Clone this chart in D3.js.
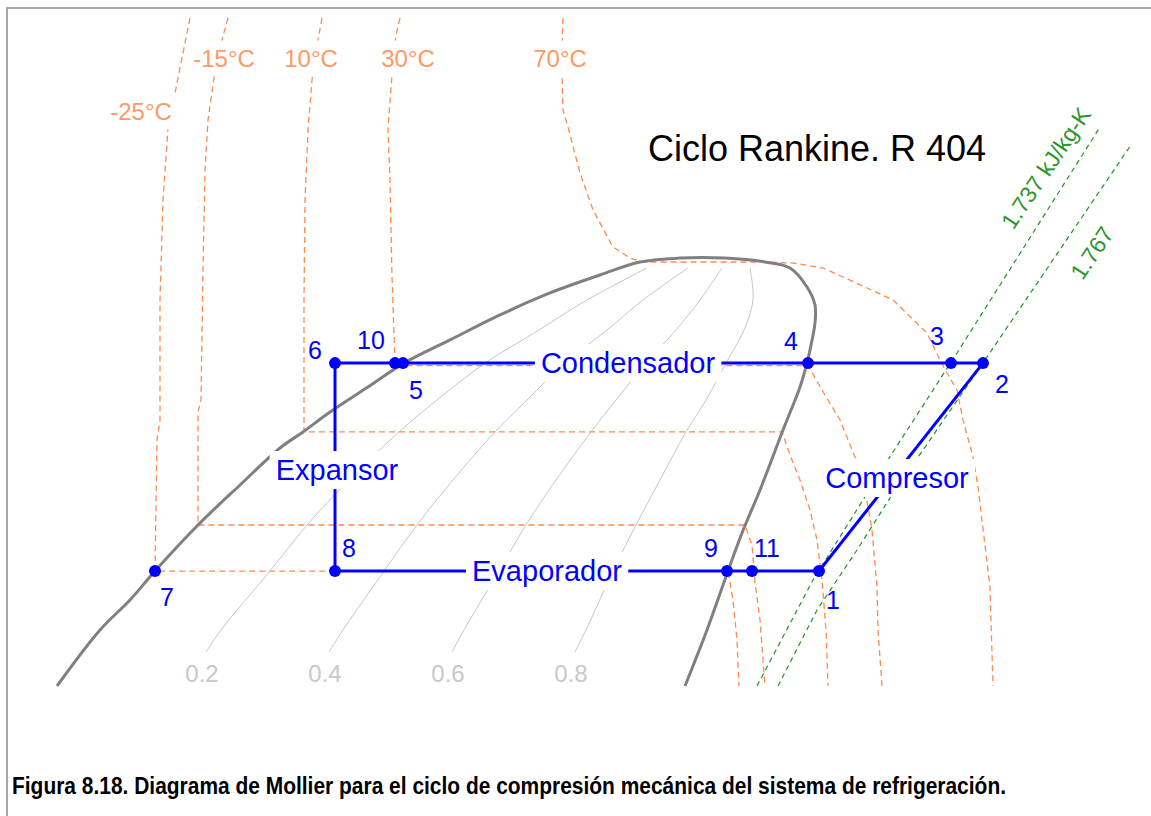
<!DOCTYPE html>
<html>
<head>
<meta charset="utf-8">
<script src="https://cdn.jsdelivr.net/npm/d3@7"></script>
<style>
  body { margin: 0; background: #fff; }
  svg { display: block; }
  text { font-family: "Liberation Sans", Arial, sans-serif; }
</style>
</head>
<body>
<div id="chart"></div>
<script>
// data: enthalpy h (kJ/kg), pressure p (bar)
const domeH = [165.5,176.25,183.75,190,200.75,211.25,221.25,227,233.75,243.25,252.25,263.75,276.25,288.75,301.25,311.25,321.25,332.5,342.5,348.75,353,355,355,353.75,353,351.25,347,341.25,336.75,333.25,328,322.5];
const domeP = [0.951,1.52,1.954,2.49,3.661,5.118,6.976,7.98,9.43,11.63,14.2,17.24,21.25,25.55,29.7,33.11,34.23,34.23,33.11,31.49,26.86,23.1,19.88,15.85,14.2,11.63,8.11,4.909,3.424,2.49,1.52,0.951];

// quality lines x = 0.2 .. 0.8
const qualLabels = ["0.2", "0.4", "0.6", "0.8"];
const qualP = [31.49,24.09,18.74,14.2,10.43,7.98,5.337,3.661,2.49,1.52,1.264];
const qualH = [
  [313,298,286,272.5,260.5,251,238.5,228,218.75,206.5,202.75],
  [323.25,312,303,292.5,283,275,264.5,255.5,247.25,237,233.5],
  [331.75,326.25,320.25,312.75,305.25,299,290.25,282.75,276,267.25,264.25],
  [338.75,339.5,337.25,332.75,327.75,322.75,316.25,310.25,304.5,297.75,295]
];

// isotherms
const isoLabels = ["-25°C", "-15°C", "10°C", "30°C", "70°C"];
const isoLabelH = [186.5, 207.25, 229, 253.25, 291.25];
const isoLabelP = [116.3, 182.7, 182.7, 182.7, 182.7];
const isoM25 = [[198.75,255.5],[195.25,142.1],[193.25,101.7],[192,55.66],[191.25,24.09],[191.25,8.82],[190.5,7.46],[190,2.49],[333.25,2.49],[334.5,1.954],[335.5,1.398],[336,0.951]];
const isoM15 = [[208.25,255.5],[206.75,212.4],[204.75,154.6],[203.25,108.7],[202.5,71.52],[202,30.97],[201.5,10.43],[200.75,9.43],[200.75,3.661],[337.5,3.661],[339.25,3.097],[340,2.272],[341.25,1.653],[342,1.182],[342.5,0.951]];
const iso10 = [[231.75,255.5],[230.75,212.4],[229.25,152],[228.25,100],[227.5,55.66],[227.25,24.09],[227.25,7.98],[346.75,7.98],[348.75,6.58],[351.25,5.337],[353.75,4.152],[355.5,3.229],[356.75,2.31],[357.75,1.52],[358.25,0.951]];
const iso30 = [[251.25,255.5],[250.25,221.6],[249.25,158.5],[248.25,102.5],[248.75,64.7],[249.25,29.21],[250,14.2],[250,13.9],[353.25,13.9],[357.5,10.87],[361.25,8.82],[365,6.47],[367.5,4.909],[369.25,3.511],[370.5,2.179],[370.75,1.52],[371.75,0.951]];
const iso70 = [[292,255.5],[291.75,203.8],[291.75,158.5],[292,118.2],[293.25,102.5],[296.25,69.75],[299.5,51.18],[304.5,37.54],[308.75,34.23],[312,33.11],[342,33.11],[349.5,32.84],[357,31.49],[362,29.21],[374.5,24.09],[383,18.27],[386.25,14.58],[388,13.07],[390.5,11.34],[392,8.82],[394.5,6.47],[395.75,5.033],[398.75,2.179],[399.5,0.951]];
const isotherms = [isoM25, isoM15, iso10, iso30, iso70];

// isentropes
const sLabels = ["1.737 kJ/kg-K", "1.767"];
const sLabelH = [412.75, 424.25];
const sLabelP = [72.76, 35.71];
const s1737 = [[340.5,0.951],[354.5,2.31],[374.5,6.748],[390.5,15.46],[426.25,102.5]];
const s1767 = [[345.75,0.951],[355.5,1.797],[365.5,2.97],[373.75,4.59],[398,14.95],[434,88.23]];

// cycle states
const stateNames = ["1","2","3","4","5","6","7","8","9","10","11"];
const stateH = [356, 397, 389, 353.25, 252, 235, 190, 235, 333, 250, 339.25];
const stateP = [2.49, 14.2, 14.2, 14.2, 14.2, 14.2, 2.49, 2.49, 2.49, 14.2, 2.49];

// processes: name, from, to, label position
const procNames = ["Condensador", "Expansor", "Evaporador", "Compresor"];
const procFrom = ["6", "6", "8", "1"];
const procTo = ["2", "8", "1", "2"];
const procLabelH = [308.25, 235.5, 288, 375.5];
const procLabelP = [14.2, 5.8, 2.49, 5.427];

const W = 1151, H = 816;
const svg = d3.select("#chart").append("svg")
  .attr("width", W)
  .attr("height", H);

const x = d3.scaleLinear().domain([150, 450]).range([-5, 1195]);
const y = d3.scaleLog().domain([1, 100]).range([680, 130]);

const smooth = d3.line().x(d => x(d[0])).y(d => y(d[1])).curve(d3.curveCatmullRom.alpha(0.5));
const straight = d3.line().x(d => x(d[0])).y(d => y(d[1]));

// frame
svg.append("rect")
  .attr("x", 7).attr("y", 8)
  .attr("width", 1200).attr("height", 900)
  .attr("fill", "none")
  .attr("stroke", "#a8a8a8")
  .attr("stroke-width", 2);

// text with a white box behind it
function boxLabel(g, cx, cy, str, size, color, padX, padY) {
  const grp = g.append("g");
  const rect = grp.append("rect").attr("fill", "#fff");
  const t = grp.append("text")
    .attr("x", cx).attr("y", cy)
    .attr("text-anchor", "middle")
    .attr("dominant-baseline", "central")
    .attr("font-size", size)
    .attr("fill", color)
    .text(str);
  const bb = t.node().getBBox();
  rect.attr("x", bb.x - padX).attr("y", bb.y - padY)
    .attr("width", bb.width + 2 * padX).attr("height", bb.height + 2 * padY);
  return grp;
}

// quality lines
const gQ = svg.append("g");
qualH.forEach((hs, i) => {
  const pts = hs.map((h, j) => [h, qualP[j]]);
  gQ.append("path")
    .attr("d", smooth(pts))
    .attr("fill", "none")
    .attr("stroke", "#c6c6c6")
    .attr("stroke-width", 1);
  const end = pts[pts.length - 1];
  gQ.append("text")
    .attr("x", x(end[0]) - 4)
    .attr("y", y(end[1]) + 21)
    .attr("text-anchor", "middle")
    .attr("dominant-baseline", "central")
    .attr("font-size", 24)
    .attr("fill", "#c8c8c8")
    .text(qualLabels[i]);
});

// isotherms
const gT = svg.append("g");
isotherms.forEach(pts => {
  gT.append("path")
    .attr("d", straight(pts))
    .attr("fill", "none")
    .attr("stroke", "#ff8a4c")
    .attr("stroke-width", 1.3)
    .attr("stroke-dasharray", "6,4");
});

// saturation dome
svg.append("path")
  .attr("d", smooth(domeH.map((h, i) => [h, domeP[i]])))
  .attr("fill", "none")
  .attr("stroke", "#808080")
  .attr("stroke-width", 3);

// isentropes
const gS = svg.append("g");
[s1737, s1767].forEach(pts => {
  gS.append("path")
    .attr("d", straight(pts))
    .attr("fill", "none")
    .attr("stroke", "#1f941f")
    .attr("stroke-width", 1.2)
    .attr("stroke-dasharray", "5,4");
});
sLabels.forEach((s, i) => {
  const cx = x(sLabelH[i]), cy = y(sLabelP[i]);
  gS.append("text")
    .attr("transform", `translate(${cx},${cy}) rotate(-56)`)
    .attr("text-anchor", "middle")
    .attr("dominant-baseline", "central")
    .attr("font-size", 23)
    .attr("fill", "#2c962c")
    .text(s);
});

// isotherm labels
isoLabels.forEach((s, i) => {
  boxLabel(svg, x(isoLabelH[i]), y(isoLabelP[i]), s, 24, "#ff9966", 3, 4);
});

// cycle
const state = {};
stateNames.forEach((n, i) => { state[n] = [stateH[i], stateP[i]]; });

const gC = svg.append("g");
procNames.forEach((n, i) => {
  gC.append("path")
    .attr("d", straight([state[procFrom[i]], state[procTo[i]]]))
    .attr("fill", "none")
    .attr("stroke", "#0000ff")
    .attr("stroke-width", 3);
});
procNames.forEach((n, i) => {
  boxLabel(gC, x(procLabelH[i]), y(procLabelP[i]), n, 29, "#0000ff", 6, 3);
});

gC.selectAll("circle")
  .data(stateNames)
  .join("circle")
  .attr("cx", d => x(state[d][0]))
  .attr("cy", d => y(state[d][1]))
  .attr("r", 6)
  .attr("fill", "#0000ff");

const numOffset = {"1":[14,29],"2":[19,21],"3":[-14,-27],"4":[-17,-22],"5":[13,27],"6":[-20,-13],
  "7":[12,26],"8":[14,-23],"9":[-16,-23],"10":[-24,-23],"11":[15,-23]};
gC.selectAll("text.num")
  .data(stateNames)
  .join("text")
  .attr("class", "num")
  .attr("x", d => x(state[d][0]) + numOffset[d][0])
  .attr("y", d => y(state[d][1]) + numOffset[d][1])
  .attr("text-anchor", "middle")
  .attr("dominant-baseline", "central")
  .attr("font-size", 25)
  .attr("fill", "#0000ff")
  .text(d => d);

// title
svg.append("text")
  .attr("x", 817).attr("y", 148)
  .attr("text-anchor", "middle")
  .attr("dominant-baseline", "central")
  .attr("font-size", 36)
  .attr("fill", "#000")
  .text("Ciclo Rankine. R 404");

// caption
svg.append("text")
  .attr("x", 12).attr("y", 794)
  .attr("font-family", "Lato, 'Open Sans', sans-serif")
  .attr("font-weight", "bold")
  .attr("font-size", 23)
  .attr("textLength", 994)
  .attr("lengthAdjust", "spacingAndGlyphs")
  .attr("fill", "#000")
  .text("Figura 8.18. Diagrama de Mollier para el ciclo de compresión mecánica del sistema de refrigeración.");
</script>
</body>
</html>
